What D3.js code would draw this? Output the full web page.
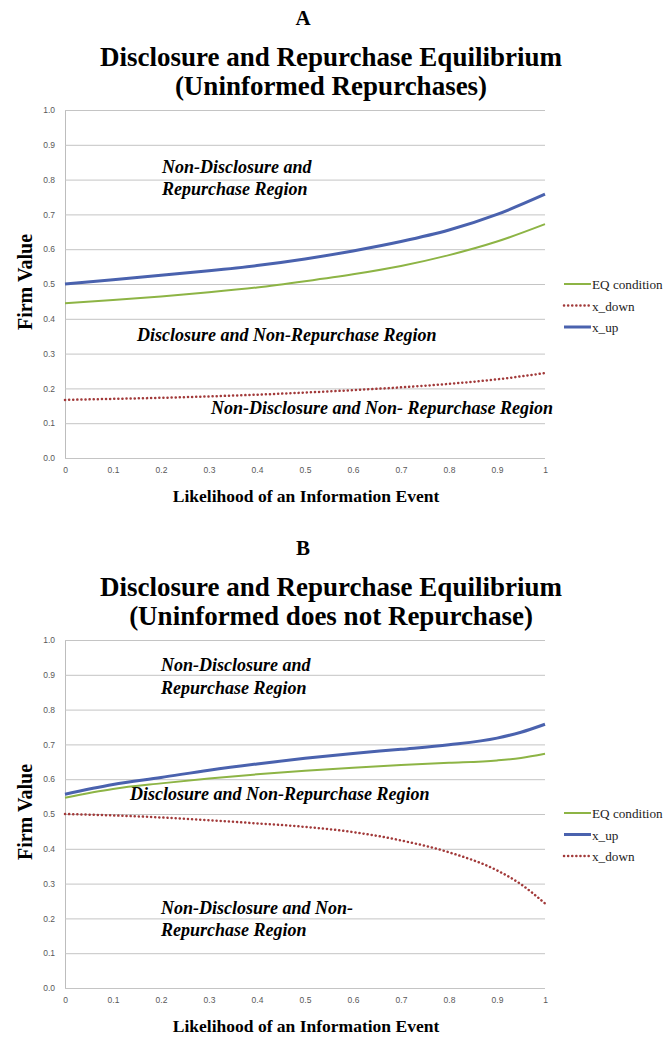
<!DOCTYPE html>
<html>
<head>
<meta charset="utf-8">
<script src="https://cdn.jsdelivr.net/npm/d3@7"></script>
<style>
  body { margin: 0; background: #fff; }
  svg { display: block; }
  .serif { font-family: "Liberation Serif", "Times New Roman", serif; }
  .tick text { font-family: "Liberation Sans", Arial, sans-serif; font-size: 8.5px; fill: #595959; }
</style>
</head>
<body>
<svg id="chart" width="665" height="1038"></svg>
<script>
// likelihood of an information event (x values)
const pA = [0, 0.1, 0.2, 0.3, 0.4, 0.5, 0.6, 0.7, 0.8, 0.9, 1];
const eqA = [0.445, 0.454, 0.464, 0.476, 0.490, 0.508, 0.528, 0.552, 0.583, 0.622, 0.672];
const downA = [0.167, 0.170, 0.173, 0.177, 0.182, 0.188, 0.195, 0.203, 0.213, 0.226, 0.244];
const upA = [0.500, 0.512, 0.525, 0.538, 0.553, 0.572, 0.595, 0.622, 0.655, 0.700, 0.758];

const pB = [0, 0.1, 0.2, 0.3, 0.4, 0.5, 0.6, 0.7, 0.8, 0.9, 0.95, 1];
const eqB = [0.547, 0.572, 0.588, 0.602, 0.614, 0.624, 0.633, 0.641, 0.647, 0.654, 0.661, 0.673];
const upB = [0.557, 0.585, 0.605, 0.626, 0.644, 0.660, 0.674, 0.686, 0.699, 0.718, 0.735, 0.758];
const downB = [0.500, 0.496, 0.490, 0.482, 0.473, 0.463, 0.448, 0.424, 0.390, 0.338, 0.298, 0.243];

const yTicks = [0, 0.1, 0.2, 0.3, 0.4, 0.5, 0.6, 0.7, 0.8, 0.9, 1.0];
const xTicks = [0, 0.1, 0.2, 0.3, 0.4, 0.5, 0.6, 0.7, 0.8, 0.9, 1];

const colors = { eq: "#8db445", up: "#4a62ae", down: "#a23a3a" };
const names = { eq: "EQ condition", up: "x_up", down: "x_down" };

var svg = d3.select("#chart");

function drawPanel(opt) {
  var x = d3.scaleLinear().domain([0, 1]).range([65, 545]);
  var y = d3.scaleLinear().domain([0, 1]).range([opt.bottom, opt.bottom - 348]);
  var g = svg.append("g");

  // panel letter and title
  g.append("text").attr("class", "serif")
    .attr("x", 303).attr("y", opt.letterY)
    .attr("text-anchor", "middle").attr("font-weight", "bold").attr("font-size", 21)
    .text(opt.letter);
  opt.title.forEach(function(t, i) {
    g.append("text").attr("class", "serif")
      .attr("x", 331).attr("y", opt.titleY + i * 29)
      .attr("text-anchor", "middle").attr("font-weight", "bold").attr("font-size", 27)
      .text(t);
  });

  // y axis + gridlines
  var ya = g.append("g").attr("transform", "translate(65,0)")
    .call(d3.axisLeft(y).tickValues(yTicks).tickSizeInner(-480).tickSizeOuter(0)
      .tickPadding(10).tickFormat(d3.format(".1f")));
  ya.select(".domain").attr("stroke", "#bdbdbd");
  ya.selectAll(".tick line").attr("stroke", "#c4c4c4");

  var xa = g.append("g").attr("transform", "translate(0," + opt.bottom + ")")
    .call(d3.axisBottom(x).tickValues(xTicks).tickSize(0).tickPadding(9)
      .tickFormat(function(d) { return d; }));
  xa.select(".domain").remove();

  // axis titles
  g.append("text").attr("class", "serif")
    .attr("transform", "translate(32," + (opt.bottom - 176) + ") rotate(-90)")
    .attr("text-anchor", "middle").attr("font-weight", "bold").attr("font-size", 20)
    .text("Firm Value");
  g.append("text").attr("class", "serif")
    .attr("x", 306).attr("y", opt.bottom + 44)
    .attr("text-anchor", "middle").attr("font-weight", "bold").attr("font-size", 17.5)
    .text("Likelihood of an Information Event");

  // region labels
  opt.notes.forEach(function(n) {
    g.append("text").attr("class", "serif")
      .attr("x", n[0]).attr("y", n[1])
      .attr("font-weight", "bold").attr("font-style", "italic").attr("font-size", 18)
      .text(n[2]);
  });

  // series
  var line = d3.line().curve(d3.curveMonotoneX)
    .x(function(d) { return x(d[0]); })
    .y(function(d) { return y(d[1]); });

  opt.series.forEach(function(s) {
    var data = opt.p.map(function(p, i) { return [p, s.values[i]]; });
    var path = g.append("path").datum(data)
      .attr("fill", "none")
      .attr("stroke", colors[s.key])
      .attr("d", line);
    styleLine(path, s.key);
  });

  // legend
  opt.legend.forEach(function(k, i) {
    var ly = opt.legendY + i * 21.5;
    var l = g.append("line").attr("x1", 564).attr("x2", 591).attr("y1", ly).attr("y2", ly)
      .attr("stroke", colors[k]);
    styleLine(l, k);
    g.append("text").attr("class", "serif")
      .attr("x", 592).attr("y", ly + 5).attr("font-size", 13.2).attr("fill", "#222")
      .text(names[k]);
  });
}

function styleLine(sel, key) {
  if (key == "up") sel.attr("stroke-width", 3);
  else if (key == "eq") sel.attr("stroke-width", 2);
  else sel.attr("stroke-width", 2.5).attr("stroke-dasharray", "0.1,4").attr("stroke-linecap", "round");
}

drawPanel({
  letter: "A", letterY: 25, titleY: 66, bottom: 458,
  title: ["Disclosure and Repurchase Equilibrium", "(Uninformed Repurchases)"],
  p: pA,
  series: [{ key: "eq", values: eqA }, { key: "down", values: downA }, { key: "up", values: upA }],
  legend: ["eq", "down", "up"], legendY: 284,
  notes: [[162, 173, "Non-Disclosure and"], [162, 195, "Repurchase Region"],
          [137, 341, "Disclosure and Non-Repurchase Region"],
          [211, 414, "Non-Disclosure and Non- Repurchase Region"]]
});

drawPanel({
  letter: "B", letterY: 555, titleY: 596, bottom: 988,
  title: ["Disclosure and Repurchase Equilibrium", "(Uninformed does not Repurchase)"],
  p: pB,
  series: [{ key: "eq", values: eqB }, { key: "up", values: upB }, { key: "down", values: downB }],
  legend: ["eq", "up", "down"], legendY: 813,
  notes: [[161, 671, "Non-Disclosure and"], [161, 694, "Repurchase Region"],
          [130, 800, "Disclosure and Non-Repurchase Region"],
          [161, 914, "Non-Disclosure and Non-"], [161, 936, "Repurchase Region"]]
});
</script>
</body>
</html>
